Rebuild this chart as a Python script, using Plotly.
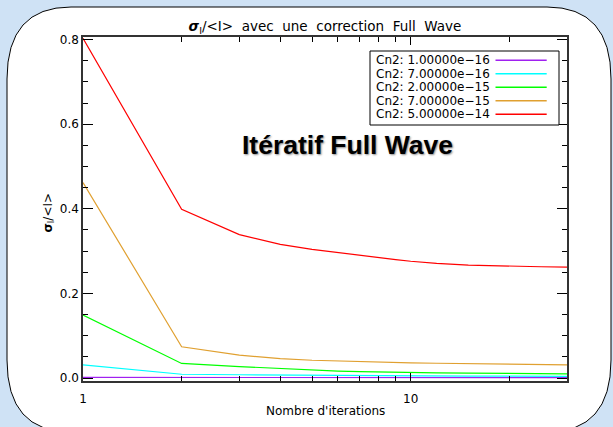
import math
import plotly.graph_objects as go

# ---------------- data ----------------
iterations = [1, 2, 3, 4, 5, 6, 7, 8, 9, 10, 12, 15, 20, 25, 30]
series_names = ["Cn2: 1.00000e\u221216", "Cn2: 7.00000e\u221216", "Cn2: 2.00000e\u221215",
                "Cn2: 7.00000e\u221215", "Cn2: 5.00000e\u221214"]
cn2_1e16 = [0.0015, 0.0012, 0.0012, 0.0011, 0.0011, 0.0011, 0.0010, 0.0010, 0.0010, 0.0010,
            0.0010, 0.0010, 0.0010, 0.0010, 0.0010]
cn2_7e16 = [0.031, 0.009, 0.0078, 0.0070, 0.0065, 0.0061, 0.0058, 0.0056, 0.0055, 0.0054,
            0.0051, 0.0047, 0.0043, 0.0040, 0.0038]
cn2_2e15 = [0.149, 0.0345, 0.027, 0.022, 0.019, 0.0165, 0.015, 0.014, 0.013, 0.0125,
            0.012, 0.0115, 0.011, 0.0105, 0.010]
cn2_7e15 = [0.462, 0.074, 0.054, 0.046, 0.042, 0.040, 0.039, 0.0375, 0.0365, 0.036,
            0.035, 0.034, 0.033, 0.032, 0.031]
cn2_5e14 = [0.803, 0.399, 0.339, 0.316, 0.304, 0.296, 0.290, 0.285, 0.280, 0.276,
            0.271, 0.267, 0.264, 0.263, 0.262]
series_values = [cn2_1e16, cn2_7e16, cn2_2e15, cn2_7e15, cn2_5e14]
series_colors = ["#a020f0", "#00ffff", "#00ff00", "#e0a030", "#ff0000"]
x_tick_vals = [1, 10]
x_tick_text = ["1", "10"]
x_minor_vals = [2, 3, 4, 5, 6, 7, 8, 9, 20, 30]

# ---------------- layout geometry (pixels) ----------------
W, H = 613, 427
L, R, T, B = 83, 567, 37, 381
FONT = "DejaVu Sans"


def px(x):
    return (x - L) / (R - L)


def py(y):
    return (B - y) / (B - T)


fig = go.Figure()
for name, vals, col in zip(series_names, series_values, series_colors):
    fig.add_trace(go.Scatter(x=iterations, y=vals, mode="lines", name=name,
                             line=dict(color=col, width=1.2), showlegend=False))

shapes = []
annotations = []

# white rounded panel
x0, y0, x1, y1 = 7, 7, 611, 432
rx, ry = 64, 72
path = (f"M {px(x0+rx)},{py(y0)} L {px(x1-rx)},{py(y0)} "
        f"Q {px(x1)},{py(y0)} {px(x1)},{py(y0+ry)} "
        f"L {px(x1)},{py(y1-ry)} Q {px(x1)},{py(y1)} {px(x1-rx)},{py(y1)} "
        f"L {px(x0+rx)},{py(y1)} Q {px(x0)},{py(y1)} {px(x0)},{py(y1-ry)} "
        f"L {px(x0)},{py(y0+ry)} Q {px(x0)},{py(y0)} {px(x0+rx)},{py(y0)} Z")
shapes.append(dict(type="path", xref="paper", yref="paper", path=path,
                   fillcolor="white", line=dict(color="black", width=1), layer="below"))

# custom legend (text left, sample line right)
lx0, lx1, ly0, ly1 = 370, 559, 51, 125
shapes.append(dict(type="rect", xref="paper", yref="paper", x0=px(lx0), x1=px(lx1),
                   y0=py(ly1), y1=py(ly0), fillcolor="white",
                   line=dict(color="black", width=1)))
row0, dy = 60.3, 13.5
for i, (name, col) in enumerate(zip(series_names, series_colors)):
    yy = row0 + i * dy
    annotations.append(dict(xref="paper", yref="paper", x=px(374), y=py(yy),
                            xanchor="left", yanchor="middle", showarrow=False,
                            text=name, font=dict(family=FONT, size=12, color="black")))
    shapes.append(dict(type="line", xref="paper", yref="paper", x0=px(495.5), x1=px(546.7),
                       y0=py(yy), y1=py(yy), line=dict(color=col, width=1.5)))

# big label
annotations.append(dict(xref="paper", yref="paper", x=px(347), y=py(145), xanchor="center",
                        yanchor="middle", showarrow=False, text="<b>Itératif Full Wave</b>",
                        font=dict(family="Liberation Sans", size=26.5, color="black",
                                  shadow="1px 1px 2px rgba(0,0,0,0.45)")))
# axis titles
annotations.append(dict(xref="paper", yref="paper", x=0.5, y=py(410.7), xanchor="center",
                        yanchor="middle", showarrow=False, text="Nombre d'iterations",
                        font=dict(family=FONT, size=12, color="black")))
annotations.append(dict(xref="paper", yref="paper", x=px(48), y=py(212.5), xanchor="center",
                        yanchor="middle", showarrow=False, textangle=-90,
                        text="<b>σ</b><sub>I</sub>/&lt;I&gt;",
                        font=dict(family=FONT, size=12, color="black")))

fig.update_layout(
    width=W, height=H,
    margin=dict(l=L, r=W - R, t=T, b=H - B, pad=0),
    paper_bgcolor="#cfe2f5",
    plot_bgcolor="rgba(0,0,0,0)",
    title=dict(text="<b><i>σ</i></b><sub>I</sub>/&lt;I&gt;  avec  une  correction  Full  Wave",
               x=0.5, xref="paper", xanchor="center", y=1 - 26 / H, yref="container",
               yanchor="middle", font=dict(family=FONT, size=13.5, color="black")),
    shapes=shapes, annotations=annotations,
    xaxis=dict(type="log", range=[0, math.log10(30)], tickvals=x_tick_vals, ticktext=x_tick_text,
               ticks="inside", ticklen=8, tickcolor="black", mirror="ticks", showline=True,
               linecolor="#333", linewidth=1.5, showgrid=False, zeroline=False,
               tickfont=dict(family=FONT, size=12, color="black"), ticklabelstandoff=6,
               minor=dict(tickvals=x_minor_vals, ticks="inside", ticklen=5, tickcolor="black",
                          showgrid=False),
               automargin=False),
    yaxis=dict(range=[-0.007, 0.806], tick0=0, dtick=0.2, tickformat=".1f",
               ticks="inside", ticklen=10, tickcolor="black", mirror="ticks", showline=True,
               linecolor="#333", linewidth=1.5, showgrid=False, zeroline=False,
               tickfont=dict(family=FONT, size=12, color="black"),
               minor=dict(dtick=0.05, ticks="inside", ticklen=5, tickcolor="black",
                          showgrid=False),
               automargin=False),
)

fig.write_html("out.html", config={"displayModeBar": False},
               post_script="document.body.style.margin='0';document.body.style.overflow='hidden';")
